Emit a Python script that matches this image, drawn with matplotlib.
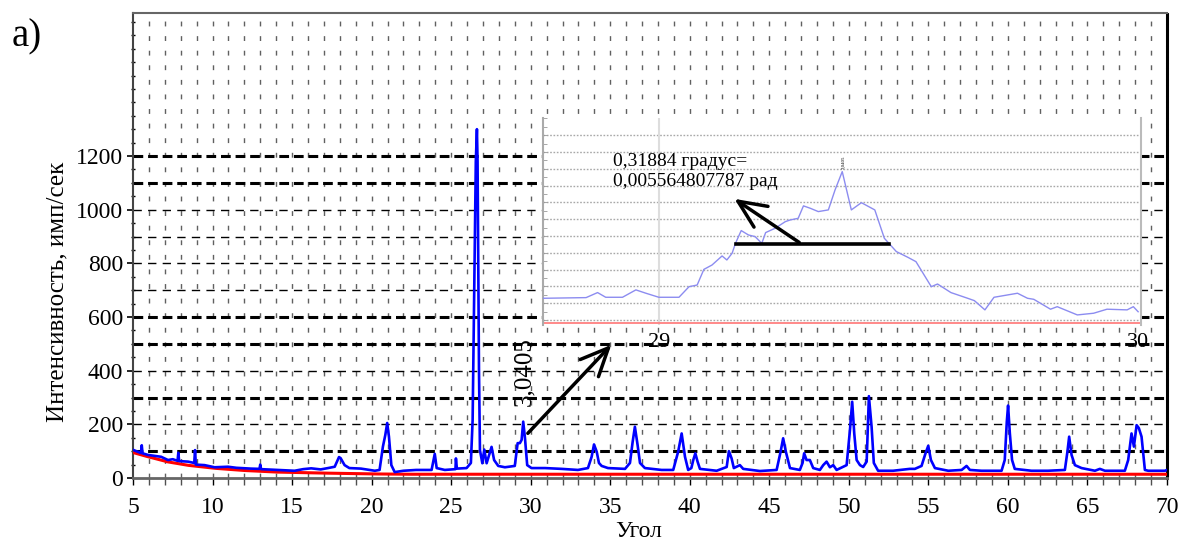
import matplotlib
matplotlib.use("Agg")
import matplotlib.pyplot as plt
from matplotlib.ticker import MultipleLocator

plt.rcParams['font.family'] = ['Liberation Serif', 'DejaVu Serif']
plt.rcParams['lines.scale_dashes'] = False

# ---------------- data ----------------
main_x = [5.0, 5.3, 5.5, 5.55, 5.6, 5.94, 6.4, 6.77, 7.2, 7.5, 7.8, 7.85, 7.9, 8.46, 8.85, 8.9, 8.95,
          9.5, 10.13, 10.97, 11.5, 11.8, 12.4, 12.95, 13.0, 13.05, 14.1, 15.16, 15.7, 16.2, 16.8,
          17.26, 17.68, 17.95, 18.05, 18.3, 18.6, 19.33, 20.2, 20.5, 20.71, 20.86, 20.98, 21.09,
          21.24, 21.45, 22.0, 22.8, 23.77, 23.9, 23.97, 24.09, 24.6, 25.27, 25.3, 25.36, 25.97,
          26.24, 26.35, 26.45, 26.55, 26.62, 26.66, 26.75, 26.81, 26.96, 27.08, 27.23, 27.54, 27.7,
          27.96, 28.38, 29.0, 29.18, 29.32, 29.43, 29.53, 29.64, 29.78, 30.05, 30.9, 31.94, 32.97,
          33.6, 33.83, 33.98, 34.15, 34.29, 34.46, 34.86, 35.93, 36.24, 36.41, 36.55, 36.72, 36.87,
          37.18, 38.23, 38.96, 39.27, 39.49, 39.7, 39.9, 40.1, 40.22, 40.35, 40.49, 40.64, 41.69,
          42.32, 42.46, 42.63, 42.77, 43.15, 43.36, 44.41, 45.46, 45.71, 45.87, 46.04, 46.3, 46.92,
          47.09, 47.19, 47.34, 47.55, 47.76, 48.18, 48.39, 48.6, 48.81, 49.02, 49.23, 49.86, 50.07,
          50.21, 50.34, 50.49, 50.7, 50.9, 51.12, 51.26, 51.43, 51.57, 51.84, 52.78, 53.83, 54.15,
          54.57, 54.82, 54.99, 55.16, 55.41, 56.25, 57.09, 57.4, 57.61, 58.34, 59.6, 59.8, 59.93,
          60.01, 60.12, 60.26, 60.43, 61.48, 62.52, 63.58, 63.74, 63.85, 64.0, 64.21, 64.63, 65.47,
          65.78, 66.1, 67.35, 67.56, 67.77, 67.92, 68.09, 68.23, 68.4, 68.61, 68.82, 69.87, 70.0]
main_y = [105, 98, 93, 122, 92, 86, 82, 79, 67, 70, 64, 94, 63, 61, 56, 104, 50,
          48, 40, 42, 38, 37, 35, 34, 50, 33, 30, 27, 33, 36, 32,
          37, 42, 78, 74, 48, 37, 35, 27, 30, 117, 160, 205, 154,
          48, 22, 27, 30, 30, 70, 90, 37, 30, 33, 73, 35, 37,
          56, 216, 700, 1180, 1300, 1180, 400, 104, 55, 106, 55, 116, 67,
          45, 40, 45, 130, 130, 142, 210, 149, 48, 37, 37, 34, 30,
          37, 79, 125, 98, 56, 45, 37, 34, 56, 135, 191, 123, 56,
          37, 30, 30, 98, 166, 79, 30, 37, 67, 92, 61, 34, 27,
          41, 100, 73, 37, 48, 34, 26, 30, 98, 148, 98, 37, 30,
          56, 92, 67, 67, 37, 30, 48, 61, 40, 48, 30, 48, 179,
          284, 166, 67, 48, 41, 61, 305, 191, 56, 27, 27, 34, 34,
          45, 92, 120, 67, 37, 27, 30, 45, 30, 27, 27, 67, 210,
          270, 167, 67, 34, 27, 27, 30, 98, 154, 86, 48, 37, 27,
          34, 27, 27, 67, 166, 117, 197, 186, 154, 30, 27, 27, 30]

background_x = [5.0, 5.9, 7.2, 8.5, 10.2, 12.0, 14.1, 17.3, 20.4, 22.5, 30.0, 40.0, 50.0, 60.0, 70.0]
background_y = [95, 80, 60, 47, 36, 28, 22, 18, 15, 14, 14, 14, 14, 14, 14]

inset_x = [28.757, 28.847, 28.871, 28.888, 28.923, 28.951, 28.972, 28.999, 29.041, 29.062, 29.079,
           29.093, 29.11, 29.131, 29.141, 29.152, 29.159, 29.171, 29.186, 29.2, 29.214, 29.222,
           29.242, 29.263, 29.273, 29.29, 29.301, 29.315, 29.332, 29.353, 29.367, 29.382, 29.401,
           29.422, 29.45, 29.47, 29.495, 29.519, 29.536, 29.568, 29.581, 29.609, 29.644, 29.658,
           29.68, 29.699, 29.748, 29.769, 29.782, 29.817, 29.831, 29.873, 29.907, 29.935, 29.977,
           29.99, 30.0]
inset_y = [1.29, 1.33, 1.63, 1.35, 1.35, 1.79, 1.59, 1.35, 1.35, 1.98, 2.08,
           3.01, 3.27, 3.81, 3.57, 3.97, 4.56, 5.32, 5.06, 4.96, 4.56, 5.2,
           5.46, 5.85, 5.95, 6.05, 6.79, 6.65, 6.45, 6.55, 7.74, 8.83, 6.55,
           6.98, 6.55, 4.86, 4.07, 3.73, 3.47, 1.98, 2.14, 1.63, 1.29, 1.15,
           0.6, 1.35, 1.59, 1.29, 1.23, 0.64, 0.79, 0.3, 0.4, 0.64, 0.6,
           0.79, 0.49]

fwhm_x = [29.160, 29.479]
fwhm_level = 4.52

y_ticks = [0, 200, 400, 600, 800, 1000, 1200]
x_ticks = [5, 10, 15, 20, 25, 30, 35, 40, 45, 50, 55, 60, 65, 70]
grid_thick = [100, 300, 500, 600, 1100, 1200]
grid_thin = [200, 400, 700, 800, 900, 1000]

peak_label = "3,0405"
fwhm_text = "0,31884 градус=\n0,005564807787 рад"

# ---------------- figure ----------------
W, H = 1181, 544
fig = plt.figure(figsize=(W / 100, H / 100), dpi=100)
ax = fig.add_axes([133 / W, 1 - 478 / H, (1167 - 133) / W, (478 - 13) / H])
ax.set_xlim(5, 70)
ax.set_ylim(0, 1733)

# vertical grid every degree
for v in range(6, 70):
    ax.axvline(v, color='#606060', lw=1.0, linestyle=(0, (3.5, 7)), zorder=1)
for h in grid_thick:
    ax.axhline(h, color='black', lw=2.2, linestyle=(0, (7, 3.5)), zorder=1)
for h in grid_thin:
    ax.axhline(h, color='black', lw=1.0, linestyle=(0, (6, 4.5)), zorder=1)

ax.plot(background_x, background_y, color='#ff0000', lw=2.2, zorder=3)
ax.plot(main_x, main_y, color='#0000ff', lw=1.9, zorder=4)

ax.set_yticks(y_ticks)
ax.set_xticks(x_ticks)
ax.yaxis.set_minor_locator(MultipleLocator(50))
ax.xaxis.set_minor_locator(MultipleLocator(1))
ax.tick_params(axis='y', which='major', direction='out', length=4, width=1.2, labelsize=17, pad=3)
ax.tick_params(axis='y', which='minor', direction='inout', length=3, width=1)
ax.tick_params(axis='x', which='major', direction='out', length=5, width=1, labelsize=17, pad=9)
ax.tick_params(axis='x', which='minor', direction='out', length=5, width=1, color='#505050')

ax.spines['left'].set_color('#444444'); ax.spines['left'].set_linewidth(1.5)
ax.spines['bottom'].set_color('#666666'); ax.spines['bottom'].set_linewidth(2)
ax.spines['top'].set_color('#666666'); ax.spines['top'].set_linewidth(1.5)
ax.spines['right'].set_color('black'); ax.spines['right'].set_linewidth(2.2)
ax.spines['right'].set_linestyle((0, (2, 2)))

fig.text(57 / W, 1 - 292 / H, "Интенсивность, имп/сек", fontsize=18, rotation=90,
         ha='center', va='center')
fig.text(639 / W, 1 - 542 / H, "Угол", fontsize=17, ha='center', va='bottom')
fig.text(12 / W, 1 - 37 / H, "a)", fontsize=28, ha='left', va='center')

ax.text(29.6, (478 - 372) / 0.26833, peak_label, rotation=90,
        fontsize=18, ha='center', va='center', zorder=6)
ax.annotate("", xy=(35.19, 504), xytext=(29.7, 159),
            arrowprops=dict(arrowstyle='->,head_length=1.0,head_width=0.45',
                            mutation_scale=20, lw=2.5, color='black'), zorder=6)

# ---------------- inset ----------------
axi = fig.add_axes([543 / W, 1 - 325 / H, (1141 - 543) / W, (325 - 118) / H], zorder=5)
axi.set_facecolor('white')
axi.set_xlim(28.757, 30.006)
axi.set_ylim(-0.3, 12.02)
for g in range(0, 12):
    axi.axhline(g, color='#a8a8a8', lw=1.0, linestyle=(0, (1.2, 1.2)), zorder=1)
axi.axvline(29, color='#dddddd', lw=1.5, zorder=1)
axi.axhline(-0.2, color='#ff8080', lw=1.3, zorder=2)
axi.plot(inset_x, inset_y, color='#8c8cf0', lw=1.0, zorder=3)
axi.plot(fwhm_x, [fwhm_level, fwhm_level], color='black', lw=2.6, zorder=4)
axi.annotate("", xy=(29.152, 7.30), xytext=(29.297, fwhm_level),
             arrowprops=dict(arrowstyle='->,head_length=1.0,head_width=0.45',
                             mutation_scale=20, lw=2.5, color='black'), zorder=5)
axi.text(28.904, 8.85, fwhm_text, fontsize=14, ha='left', va='center', linespacing=1.2, zorder=5)
axi.text(29.385, 9.0, peak_label, rotation=90, fontsize=3.5, ha='center', va='bottom')
axi.set_xticks([])
axi.set_yticks([])
axi.yaxis.set_minor_locator(MultipleLocator(0.5))
axi.tick_params(axis='y', which='minor', direction='in', length=3, color='#999999')
for s in ['top', 'bottom']:
    axi.spines[s].set_visible(False)
axi.spines['left'].set_color('#aaaaaa'); axi.spines['left'].set_linewidth(1.5)
axi.spines['right'].set_color('#bbbbbb'); axi.spines['right'].set_linewidth(1.5)
for xv, lab in [(29, "29"), (30, "30")]:
    axi.annotate(lab, xy=(xv, 0), xycoords=('data', 'axes fraction'), xytext=(0, -12.5),
                 textcoords='offset points', ha='center', va='center', fontsize=16,
                 annotation_clip=False)

fig.savefig("out.png", dpi=100)
